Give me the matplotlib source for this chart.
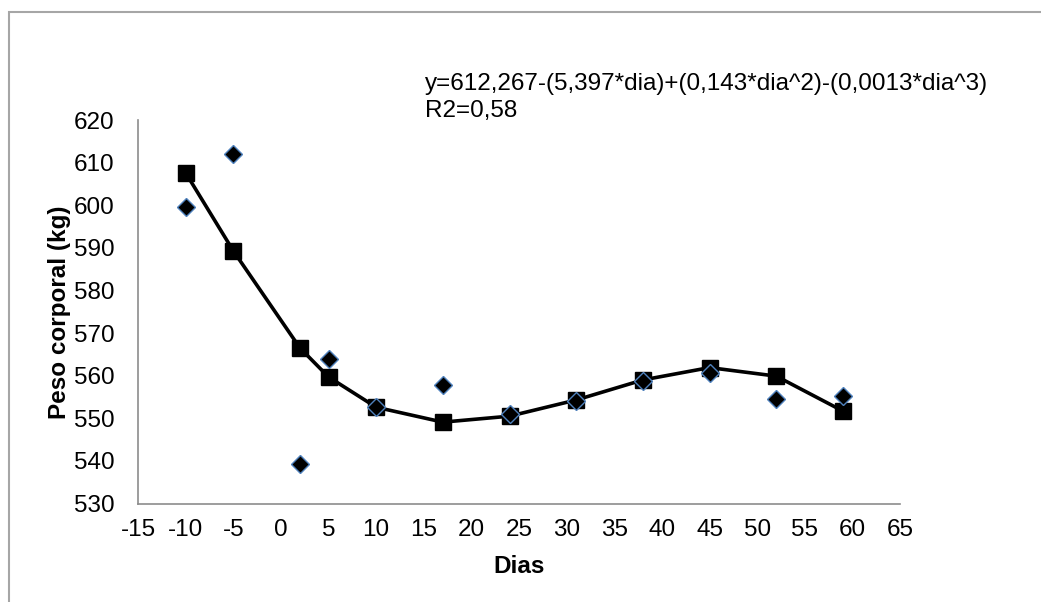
import matplotlib.pyplot as plt
from matplotlib.patches import Rectangle

plt.rcParams['font.family'] = ['Liberation Sans', 'DejaVu Sans']
plt.rcParams['axes.unicode_minus'] = False

# dias de coleta
dias = [-10, -5, 2, 5, 10, 17, 24, 31, 38, 45, 52, 59]

# peso observado (kg)
peso_obs = [599.6, 612.0, 539.3, 563.9, 552.6, 557.8, 551.0, 554.1, 558.7, 560.6, 554.5, 555.2]

# peso estimado pela regressao (kg)
peso_est = [607.6, 589.3, 566.5, 559.7, 552.6, 549.1, 550.5, 554.3, 559.0, 561.9, 559.9, 551.7]

xticks = list(range(-15, 70, 5))
yticks = list(range(530, 630, 10))

equacao = "y=612,267-(5,397*dia)+(0,143*dia^2)-(0,0013*dia^3)\nR2=0,58"

FS = 17.5

fig = plt.figure(figsize=(10.41, 6.02), dpi=100)
ax = fig.add_axes([0.1326, 0.1636, 0.732, 0.637])

# moldura cinza do grafico
fig.patches.append(Rectangle((9 / 1041, -0.1), 1.2, 1.1 - 12 / 602,
                             transform=fig.transFigure, fill=False,
                             edgecolor="#a6a6a6", linewidth=1.5))

ax.plot(dias, peso_est, color="black", linewidth=2.6, marker="s",
        markersize=12, markerfacecolor="black", markeredgecolor="black", zorder=2)
ax.plot(dias, peso_obs, linestyle="none", marker="D", markersize=9,
        markerfacecolor="black", markeredgecolor="#4f81bd", markeredgewidth=1.0, zorder=3)

ax.set_xlim(-15, 65)
ax.set_ylim(530, 620)
ax.set_xticks(xticks)
ax.set_yticks(yticks)

for s in ["top", "right"]:
    ax.spines[s].set_visible(False)
for s in ["left", "bottom"]:
    ax.spines[s].set_color("#8c8c8c")
    ax.spines[s].set_linewidth(1.2)

ax.tick_params(axis="both", length=0, labelsize=FS, colors="black")
ax.tick_params(axis="y", pad=17)
ax.tick_params(axis="x", pad=11)

ax.set_xlabel("Dias", fontsize=FS, fontweight="bold", labelpad=10)
ax.set_ylabel("Peso corporal (kg)", fontsize=FS, fontweight="bold", labelpad=2)

fig.text(425 / 1041, 1 - 73 / 602, equacao, fontsize=FS, va="top", ha="left",
         linespacing=1.3)

fig.savefig("out.png", dpi=100)
